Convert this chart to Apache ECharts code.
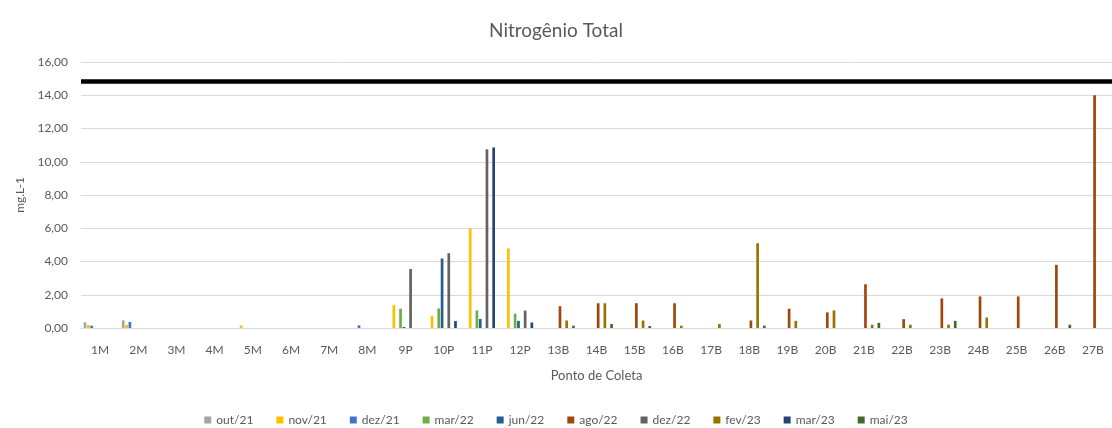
<!DOCTYPE html>
<html>
<head>
<meta charset="utf-8">
<title>Nitrogênio Total</title>
<script src="https://cdn.jsdelivr.net/npm/echarts@6/dist/echarts.min.js"></script>
<style>
	html, body { margin: 0; padding: 0; background: #fff; }
	#chart { width: 1112px; height: 428px; }
</style>
</head>
<body>
<div id="chart"></div>
<script>
// pontos de coleta
var pontos = ['1M', '2M', '3M', '4M', '5M', '6M', '7M', '8M', '9P', '10P', '11P', '12P', '13B', '14B',
	'15B', '16B', '17B', '18B', '19B', '20B', '21B', '22B', '23B', '24B', '25B', '26B', '27B'];

var campanhas = ['out/21', 'nov/21', 'dez/21', 'mar/22', 'jun/22', 'ago/22', 'dez/22', 'fev/23', 'mar/23', 'mai/23'];
var cores = ['#A5A5A5', '#FFC000', '#4472C4', '#70AD47', '#255E91', '#9E480E', '#636363', '#997300', '#264478', '#43682B'];

var yTicks = [0, 2, 4, 6, 8, 10, 12, 14, 16];
var limite = 14.85; // linha preta (valor de referencia)

var _ = null;
//            1M    2M    3M 4M 5M    6M 7M 8M    9P    10P   11P    12P   13B   14B   15B   16B   17B   18B   19B   20B   21B   22B   23B   24B   25B   26B   27B
var out21 = [0.34, 0.46, _, _, _,    _, _, _,    _,    _,    _,     _,    _,    _,    _,    _,    _,    _,    _,    _,    _,    _,    _,    _,    _,    _,    _];
var nov21 = [0.18, 0.18, _, _, 0.15, _, _, _,    1.38, 0.74, 6.0,   4.78, _,    _,    _,    _,    _,    _,    _,    _,    _,    _,    _,    _,    _,    _,    _];
var dez21 = [0.14, 0.36, _, _, _,    _, _, 0.16, _,    _,    _,     _,    _,    _,    _,    _,    _,    _,    _,    _,    _,    _,    _,    _,    _,    _,    _];
var mar22 = [_,    _,    _, _, _,    _, _, _,    1.16, 1.18, 1.06,  0.86, _,    _,    _,    _,    _,    _,    _,    _,    _,    _,    _,    _,    _,    _,    _];
var jun22 = [_,    _,    _, _, _,    _, _, _,    0.06, 4.18, 0.54,  0.43, _,    _,    _,    _,    _,    _,    _,    _,    _,    _,    _,    _,    _,    _,    _];
var ago22 = [_,    _,    _, _, _,    _, _, _,    _,    _,    _,     _,    1.31, 1.49, 1.49, 1.49, _,    0.45, 1.16, 0.94, 2.63, 0.53, 1.78, 1.9,  1.9,  3.8,  14.0];
var dez22 = [_,    _,    _, _, _,    _, _, _,    3.55, 4.5,  10.75, 1.05, _,    _,    _,    _,    _,    _,    _,    _,    _,    _,    _,    _,    _,    _,    _];
var fev23 = [_,    _,    _, _, _,    _, _, _,    _,    _,    _,     _,    0.45, 1.49, 0.45, 0.14, 0.24, 5.1,  0.43, 1.06, 0.2,  0.2,  0.2,  0.63, _,    _,    _];
var mar23 = [_,    _,    _, _, _,    _, _, _,    _,    0.42, 10.86, 0.33, _,    _,    _,    _,    _,    _,    _,    _,    _,    _,    _,    _,    _,    _,    _];
var mai23 = [_,    _,    _, _, _,    _, _, _,    _,    _,    _,     _,    0.14, 0.24, 0.12, _,    _,    0.14, _,    _,    0.31, _,    0.43, _,    _,    0.2,  _];

var valores = [out21, nov21, dez21, mar22, jun22, ago22, dez22, fev23, mar23, mai23];

var fonte = 'Lato, "Liberation Sans", sans-serif';
var cinza = '#595959';

function formatNum(v) {
	return v.toFixed(2).replace('.', ',');
}

var series = campanhas.map(function(nome, i) {
	var s = {
		name: nome,
		type: 'bar',
		data: valores[i],
		itemStyle: { color: cores[i] },
		barGap: '24%',
		barCategoryGap: '14%'
	};
	if (i === 0) {
		s.markLine = {
			silent: true,
			symbol: ['none', 'none'],
			label: { show: false },
			lineStyle: { color: '#000', width: 4.5, type: 'solid' },
			data: [{ yAxis: limite }]
		};
	}
	return s;
});

var chart = echarts.init(document.getElementById('chart'), null, { renderer: 'canvas' });
chart.setOption({
	animation: false,
	textStyle: { fontFamily: fonte },
	title: {
		text: 'Nitrogênio Total',
		left: 'center',
		top: 16,
		textStyle: { fontFamily: fonte, fontSize: 19, fontWeight: 'normal', color: cinza }
	},
	legend: {
		data: campanhas,
		bottom: -3,
		left: 'center',
		icon: 'rect',
		itemWidth: 7,
		itemHeight: 7,
		itemGap: 23,
		textStyle: { fontFamily: fonte, fontSize: 12, color: cinza }
	},
	grid: { left: 81, top: 62, width: 1033, bottom: 100, containLabel: false },
	xAxis: {
		type: 'category',
		data: pontos,
		name: 'Ponto de Coleta',
		nameLocation: 'middle',
		nameGap: 41,
		nameTextStyle: { fontFamily: fonte, fontSize: 13, color: cinza },
		axisLine: { lineStyle: { color: '#D9D9D9', width: 1 } },
		axisTick: { show: false },
		axisLabel: { interval: 0, margin: 16, fontSize: 12, color: cinza, fontFamily: fonte }
	},
	yAxis: {
		type: 'value',
		min: yTicks[0],
		max: yTicks[yTicks.length - 1],
		interval: 2,
		name: 'mg.L-1',
		nameLocation: 'middle',
		nameGap: 52,
		nameTextStyle: { fontFamily: fonte, fontSize: 12, color: cinza },
		axisLine: { show: false },
		axisTick: { show: false },
		splitLine: { lineStyle: { color: '#D9D9D9', width: 1 } },
		axisLabel: {
			margin: 13,
			fontSize: 12,
			color: cinza,
			fontFamily: fonte,
			formatter: function(v) { return formatNum(v); }
		}
	},
	series: series
});
</script>
</body>
</html>
